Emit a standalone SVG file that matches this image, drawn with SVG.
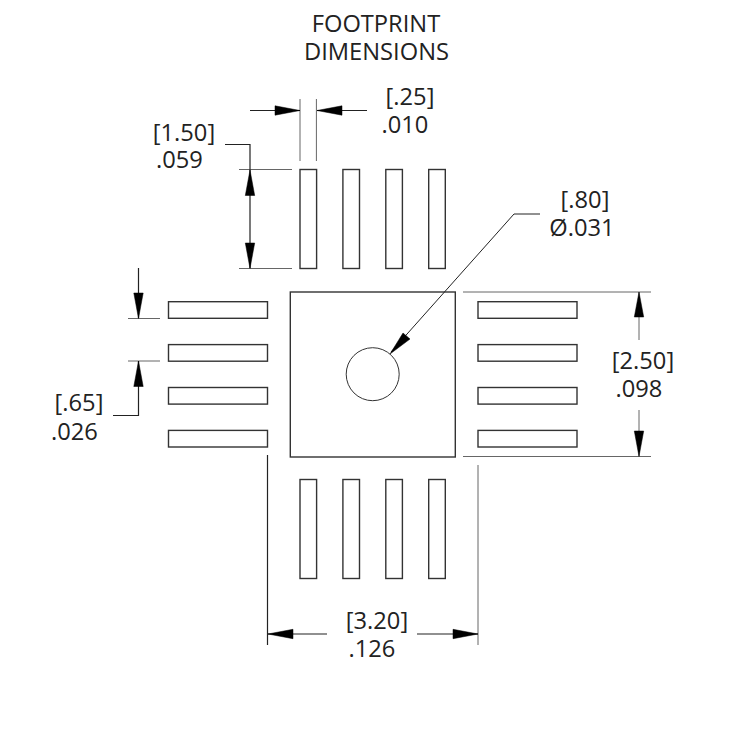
<svg xmlns="http://www.w3.org/2000/svg" width="750" height="750" viewBox="0 0 750 750">
<style>
text{font-family:"Open Sans","Noto Sans","Liberation Sans",sans-serif;font-size:23.700px;fill:#222;text-anchor:middle}
.pad{fill:#fff;stroke:#333;stroke-width:1.4}
.dim{fill:none;stroke:#222;stroke-width:1.200}
.ext{fill:none;stroke:#666;stroke-width:1}
.ah{fill:#000;stroke:#000;stroke-width:.5}
</style>
<defs>
<rect id="v" class="pad" width="16.600" height="99"/>
<rect id="h" class="pad" width="99" height="16.600"/>
</defs>
<g id="title"><text x="376" y="31.500">FOOTPRINT</text><text x="376.500" y="60">DIMENSIONS</text></g>
<g id="pads-top"><use href="#v" x="300" y="169.500"/><use href="#v" x="342.900" y="169.500"/><use href="#v" x="385.800" y="169.500"/><use href="#v" x="428.700" y="169.500"/></g>
<g id="pads-bottom"><use href="#v" x="300" y="479.500"/><use href="#v" x="342.900" y="479.500"/><use href="#v" x="385.800" y="479.500"/><use href="#v" x="428.700" y="479.500"/></g>
<g id="pads-left"><use href="#h" x="168.500" y="301.700"/><use href="#h" x="168.500" y="344.600"/><use href="#h" x="168.500" y="387.500"/><use href="#h" x="168.500" y="430.400"/></g>
<g id="pads-right"><use href="#h" x="478" y="301.700"/><use href="#h" x="478" y="344.600"/><use href="#h" x="478" y="387.500"/><use href="#h" x="478" y="430.400"/></g>
<g id="thermal-pad"><rect class="pad" x="290.300" y="292" width="165" height="165"/><circle class="pad" cx="372.700" cy="374.200" r="26.500" style="stroke-width:1"/></g>
<g id="connectors">
<path class="ext" d="M300 99V161M316.400 99V161"/>
<path class="dim" d="M250 110.500H300M317 110.500H367"/>
<path class="ah" d="M275 105.800L300 110.500L275 115.200ZM342 105.800L317 110.500L342 115.200Z"/>
<path class="ext" d="M239 169.500H292M239 268.500H292"/>
<path class="dim" d="M225 144.500H250V268"/>
<path class="ah" d="M250 170L245.300 195.500H254.700ZM250 268.500L245.300 243H254.700Z"/>
<path class="ext" d="M128 318.500H160M128 361H160"/>
<path class="dim" d="M138.500 268V318M113 415.500H138.500V361"/>
<path class="ah" d="M138.500 318.500L133.800 293H143.200ZM138.500 361L133.800 386.500H143.200Z"/>
<path class="ext" d="M463 292H651M463 456.500H651"/>
<path class="ext" d="M639 292V340M639 410V456"/>
<path class="ah" d="M639 292L634.300 317H643.700ZM639 456.500L634.300 431H643.700Z"/>
<path class="dim" d="M267.500 455V645"/>
<path class="ext" d="M478 465V645"/>
<path class="dim" d="M268 634H327M417 634H478"/>
<path class="ah" d="M268 634L293 629.300V638.700ZM478 634L453 629.300V638.700Z"/>
<path class="dim" d="M540 214H514L391 352" style="stroke-width:1"/>
<path class="ah" d="M390 354L403 333L410 339Z"/>
</g>
<g id="labels">
<text x="410" y="105">[.25]</text><text x="405" y="133">.010</text>
<text x="184" y="141">[1.50]</text><text x="179.500" y="168">.059</text>
<text x="585" y="208">[.80]</text><text x="582" y="236">Ø.031</text>
<text x="79" y="411">[.65]</text><text x="74.500" y="439.500">.026</text>
<text x="643" y="369">[2.50]</text><text x="639" y="397">.098</text>
<text x="377" y="629">[3.20]</text><text x="372" y="657">.126</text>
</g>
</svg>
